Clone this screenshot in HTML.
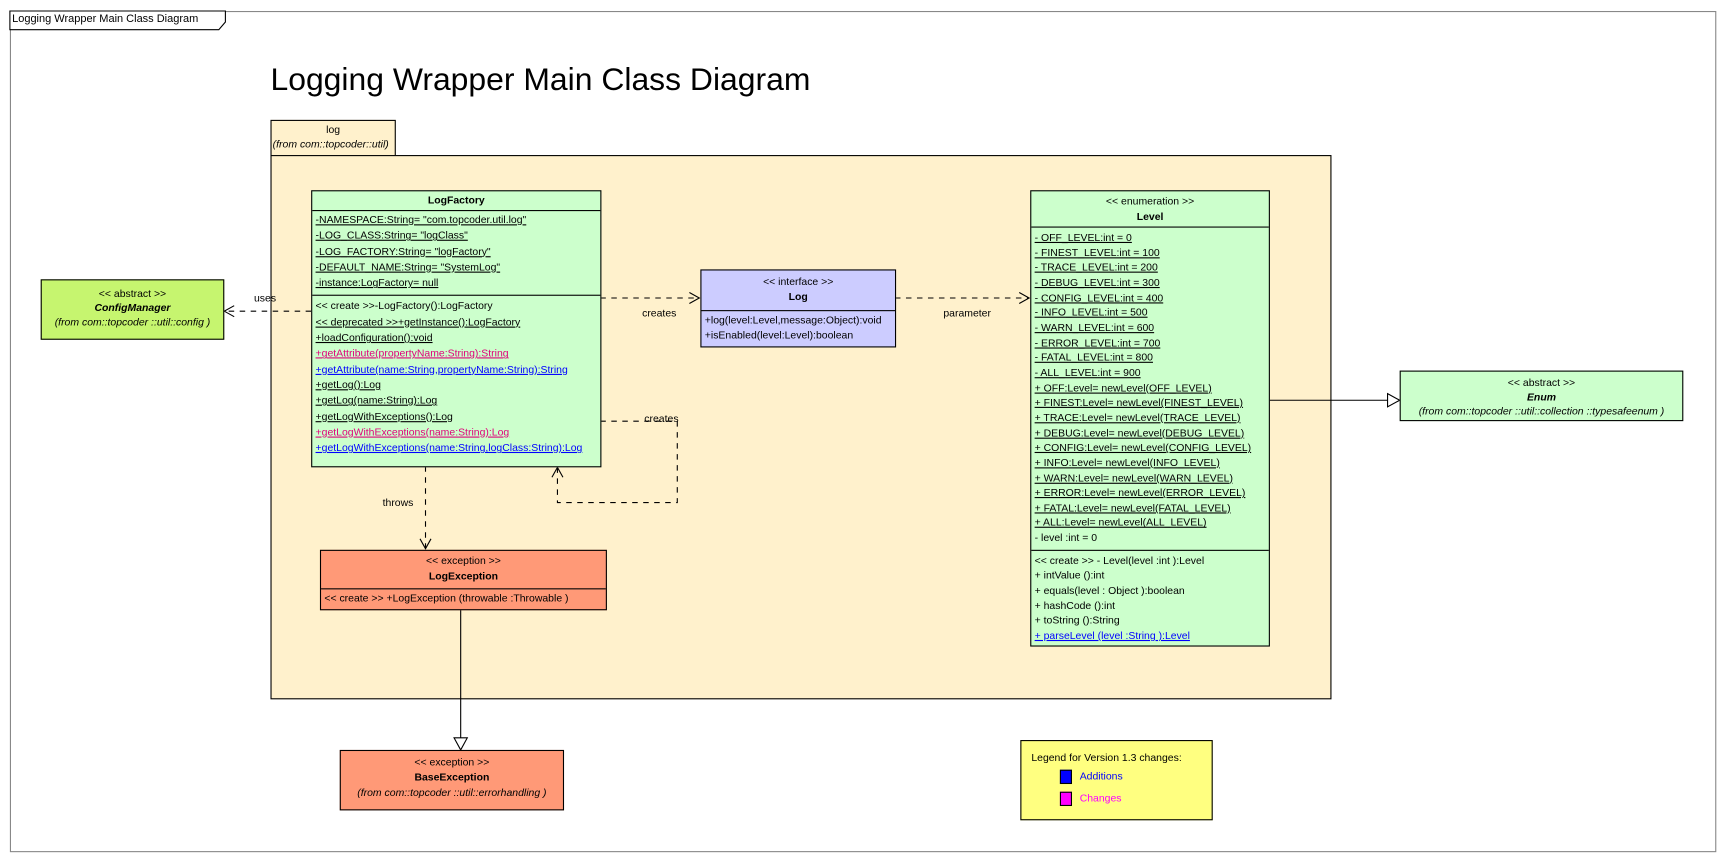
<!DOCTYPE html>
<html><head><meta charset="utf-8"><style>
body{margin:0;background:#fff;width:1724px;height:861px;overflow:hidden}
#w{position:absolute;left:0;top:0;width:1568px;height:783px;transform:scale(1.09949,1.0996);transform-origin:0 0;font-family:"Liberation Sans",sans-serif;font-size:9.5px;color:#000}
.a{position:absolute;box-sizing:border-box}
.bx{border:1px solid #000}
.r{white-space:nowrap;line-height:14.3px;padding-left:3px}
.u{text-decoration:underline}
.c{text-align:center}
.lv .r{line-height:13.65px}
.m{color:#e0007a}.b{color:#0000ff}
svg{position:absolute;left:0;top:0}
</style></head><body><div id="w">
<div class="a" style="left:9px;top:10px;width:1552px;height:765px;border:1px solid #888"></div>
<svg width="1568" height="783"><path d="M9 10H205V20L199 27H9Z" fill="#fff" stroke="#000"/></svg>
<div class="a" style="left:11px;top:12px;font-size:10px">Logging Wrapper Main Class Diagram</div>
<div class="a" style="left:246px;top:57px;font-size:29px">Logging Wrapper Main Class Diagram</div>
<div class="a bx" style="left:246px;top:109px;width:114px;height:33px;background:#fff1cc"><div class="c" style="margin-top:3px">log</div><div style="font-style:italic;margin-top:2px;padding-left:1px;white-space:nowrap">(from com::topcoder::util)</div></div>
<div class="a bx" style="left:246px;top:141px;width:965px;height:495px;background:#fff1cc"></div>
<svg width="1568" height="783" fill="none" stroke="#000">
<g stroke-dasharray="5,5"><path d="M283 283H205"/><path d="M546 271H635"/><path d="M814 271H935"/><path d="M546 383H616V457H507V426"/><path d="M387 424V498"/></g>
<path d="M213 278L204 283L213 288M627 266L636 271L627 276M927 266L936 271L927 276M502 434L507 425L512 434M382 490L387 499L392 490"/>
<path d="M1154 364H1262M419 554V671"/>
<path d="M1262 358L1273 364L1262 370Z" fill="#fff"/><path d="M413 671L419 682L425 671Z" fill="#fff"/>
</svg>
<div class="a" style="left:231px;top:266px">uses</div>
<div class="a" style="left:584px;top:280px">creates</div>
<div class="a" style="left:858px;top:280px">parameter</div>
<div class="a" style="left:586px;top:376px">creates</div>
<div class="a" style="left:348px;top:452px">throws</div>
<div class="a bx" style="left:283px;top:173px;width:264px;height:252px;background:#ccffcc">
<div class="c" style="font-weight:bold;height:17px;line-height:17px;border-bottom:1px solid #000">LogFactory</div>
<div style="border-bottom:1px solid #000;padding:2px 0 3px">
<div class="r u">-NAMESPACE:String= "com.topcoder.util.log"</div><div class="r u">-LOG_CLASS:String= "logClass"</div><div class="r u">-LOG_FACTORY:String= "logFactory"</div><div class="r u">-DEFAULT_NAME:String= "SystemLog"</div><div class="r u">-instance:LogFactory= null</div></div>
<div style="padding-top:3px"><div class="r">&lt;&lt; create &gt;&gt;-LogFactory():LogFactory</div><div class="r u">&lt;&lt; deprecated &gt;&gt;+getInstance():LogFactory</div><div class="r u">+loadConfiguration():void</div><div class="r u m">+getAttribute(propertyName:String):String</div><div class="r u b">+getAttribute(name:String,propertyName:String):String</div><div class="r u">+getLog():Log</div><div class="r u">+getLog(name:String):Log</div><div class="r u">+getLogWithExceptions():Log</div><div class="r u m">+getLogWithExceptions(name:String):Log</div><div class="r u b">+getLogWithExceptions(name:String,logClass:String):Log</div></div></div>
<div class="a bx c" style="left:37px;top:254px;width:167px;height:55px;background:#c6f56f;padding-top:6px;line-height:13px"><div>&lt;&lt; abstract &gt;&gt;</div><div style="font-weight:bold;font-style:italic">ConfigManager</div><div style="font-style:italic">(from com::topcoder ::util::config )</div></div>
<div class="a bx" style="left:637px;top:245px;width:178px;height:71px;background:#ccccff">
<div class="c" style="border-bottom:1px solid #000;height:37px;line-height:14px;padding-top:4px;box-sizing:border-box"><div>&lt;&lt; interface &gt;&gt;</div><div style="font-weight:bold">Log</div></div>
<div style="padding-top:2px"><div class="r">+log(level:Level,message:Object):void</div><div class="r">+isEnabled(level:Level):boolean</div></div></div>
<div class="a bx lv" style="left:937px;top:173px;width:218px;height:415px;background:#ccffcc">
<div class="c" style="border-bottom:1px solid #000;height:33px;line-height:14px;padding-top:3px;box-sizing:border-box"><div>&lt;&lt; enumeration &gt;&gt;</div><div style="font-weight:bold">Level</div></div>
<div style="border-bottom:1px solid #000;padding:3px 0 3px"><div class="r u">- OFF_LEVEL:int = 0</div><div class="r u">- FINEST_LEVEL:int = 100</div><div class="r u">- TRACE_LEVEL:int = 200</div><div class="r u">- DEBUG_LEVEL:int = 300</div><div class="r u">- CONFIG_LEVEL:int = 400</div><div class="r u">- INFO_LEVEL:int = 500</div><div class="r u">- WARN_LEVEL:int = 600</div><div class="r u">- ERROR_LEVEL:int = 700</div><div class="r u">- FATAL_LEVEL:int = 800</div><div class="r u">- ALL_LEVEL:int = 900</div><div class="r u">+ OFF:Level= newLevel(OFF_LEVEL)</div><div class="r u">+ FINEST:Level= newLevel(FINEST_LEVEL)</div><div class="r u">+ TRACE:Level= newLevel(TRACE_LEVEL)</div><div class="r u">+ DEBUG:Level= newLevel(DEBUG_LEVEL)</div><div class="r u">+ CONFIG:Level= newLevel(CONFIG_LEVEL)</div><div class="r u">+ INFO:Level= newLevel(INFO_LEVEL)</div><div class="r u">+ WARN:Level= newLevel(WARN_LEVEL)</div><div class="r u">+ ERROR:Level= newLevel(ERROR_LEVEL)</div><div class="r u">+ FATAL:Level= newLevel(FATAL_LEVEL)</div><div class="r u">+ ALL:Level= newLevel(ALL_LEVEL)</div><div class="r">- level :int = 0</div></div>
<div style="padding-top:3px"><div class="r">&lt;&lt; create &gt;&gt; - Level(level :int ):Level</div><div class="r">+ intValue ():int</div><div class="r">+ equals(level : Object ):boolean</div><div class="r">+ hashCode ():int</div><div class="r">+ toString ():String</div><div class="r u b">+ parseLevel (level :String ):Level</div></div></div>
<div class="a bx c" style="left:1273px;top:337px;width:258px;height:46px;background:#ccffcc;padding-top:4px;line-height:13px"><div>&lt;&lt; abstract &gt;&gt;</div><div style="font-weight:bold;font-style:italic">Enum</div><div style="font-style:italic">(from com::topcoder ::util::collection ::typesafeenum )</div></div>
<div class="a bx" style="left:291px;top:500px;width:261px;height:55px;background:#ff9977">
<div class="c" style="border-bottom:1px solid #000;height:35px;line-height:14px;padding-top:3px;box-sizing:border-box"><div>&lt;&lt; exception &gt;&gt;</div><div style="font-weight:bold">LogException</div></div>
<div class="r" style="padding-top:2px">&lt;&lt; create &gt;&gt; +LogException (throwable :Throwable )</div></div>
<div class="a bx c" style="left:309px;top:682px;width:204px;height:55px;background:#ff9977;padding-top:4px;line-height:14px"><div>&lt;&lt; exception &gt;&gt;</div><div style="font-weight:bold">BaseException</div><div style="font-style:italic">(from com::topcoder ::util::errorhandling )</div></div>
<div class="a bx" style="left:928px;top:673px;width:175px;height:73px;background:#ffff80">
<div class="a" style="left:9px;top:10px">Legend for Version 1.3 changes:</div>
<div class="a" style="left:35px;top:26px;width:11px;height:13px;background:#0000ff;border:1px solid #000"></div><div class="a b" style="left:53px;top:27px">Additions</div>
<div class="a" style="left:35px;top:46px;width:11px;height:13px;background:#ff00ff;border:1px solid #000"></div><div class="a" style="left:53px;top:47px;color:#ff00ff">Changes</div></div>
</div></body></html>
